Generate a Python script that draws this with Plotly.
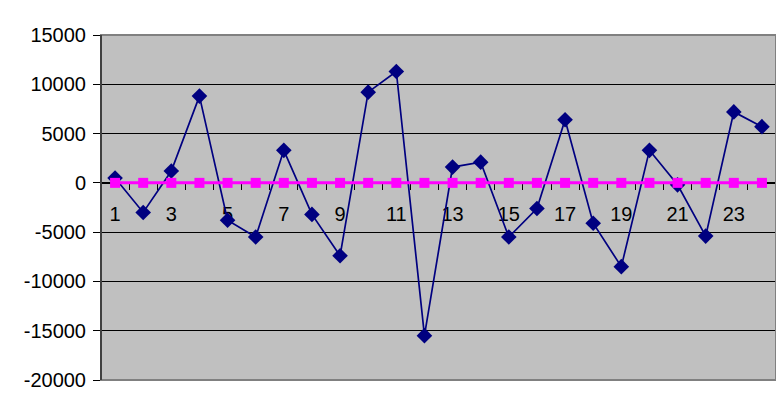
import plotly.graph_objects as go

# categories along the bottom and the two series
periods = list(range(1, 25))
values = [500, -3000, 1200, 8800, -3800, -5500, 3300, -3200, -7400, 9200, 11300, -15500,
          1600, 2100, -5500, -2600, 6400, -4100, -8500, 3300, -200, -5400, 7200, 5700]
baseline = [0] * 24
x_tick_vals = [1, 3, 5, 7, 9, 11, 13, 15, 17, 19, 21, 23]
x_tick_text = [str(v) for v in x_tick_vals]
y_tick_vals = [-20000, -15000, -10000, -5000, 0, 5000, 10000, 15000]
y_tick_text = [str(v) for v in y_tick_vals]

font = "Liberation Sans, Arial, sans-serif"
y_min, y_max = -20000, 15000

fig = go.Figure()
fig.add_trace(go.Scatter(x=periods, y=values, mode="lines+markers",
                         line=dict(color="#000080", width=1.7),
                         marker=dict(symbol="diamond", size=12, color="#000080"),
                         showlegend=False, cliponaxis=False))
fig.add_trace(go.Scatter(x=periods, y=baseline, mode="lines+markers",
                         line=dict(color="#FF00FF", width=3),
                         marker=dict(symbol="square", size=10, color="#FF00FF"),
                         showlegend=False, cliponaxis=False))

# page body adds an 8px margin, so the figure is sized to fit inside it
fig.update_layout(
    width=768, height=389,
    margin=dict(l=93, r=0, t=27, b=17, autoexpand=False),
    paper_bgcolor="white",
    plot_bgcolor="#C0C0C0",
    font=dict(family=font, size=20, color="black"),
    xaxis=dict(range=[0.5, 24.5], anchor="free", automargin=False,
               position=(0 - y_min) / (y_max - y_min),
               tickmode="array", tickvals=x_tick_vals, ticktext=x_tick_text,
               ticks="", showgrid=False, zeroline=False,
               showline=True, linecolor="black", linewidth=1,
               ticklabelstandoff=13, layer="below traces",
               minor=dict(tick0=0.5, dtick=1, ticks="outside", ticklen=6,
                          tickcolor="black", tickwidth=1, showgrid=False)),
    yaxis=dict(range=[y_min, y_max], tickmode="array", tickvals=y_tick_vals,
               ticktext=y_tick_text, automargin=False,
               showgrid=True, gridcolor="black", gridwidth=1, zeroline=False,
               showline=True, linecolor="black", linewidth=1,
               ticks="outside", ticklen=7, tickcolor="black",
               ticklabelstandoff=3, layer="below traces"),
)

# grey frame round the plot area
fig.add_shape(type="rect", xref="x domain", yref="y domain", x0=0, x1=1, y0=0, y1=1,
              line=dict(color="#808080", width=2), layer="above")
fig.add_shape(type="line", xref="x domain", yref="y domain", x0=0, x1=0, y0=0, y1=1,
              line=dict(color="black", width=1), layer="above")

fig.write_html("out.html")
